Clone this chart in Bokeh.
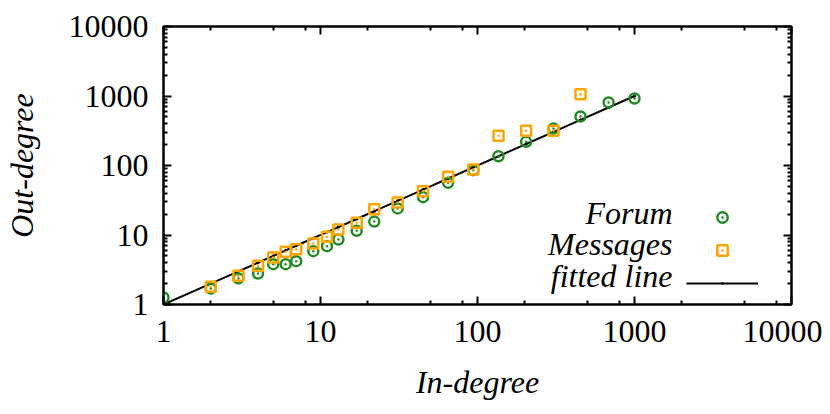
from bokeh.plotting import figure
from bokeh.models import (FixedTicker, LogAxis, Legend, LegendItem, Label,
                          ColumnDataSource, Range1d, BasicTickFormatter)
from bokeh.embed import file_html
from bokeh.resources import INLINE

# ---- data ----
forum_in = [1, 2, 3, 4, 5, 6, 7, 9, 11, 13, 17, 22, 31, 45, 65, 94, 136, 204, 305, 453, 684, 1000]
forum_out = [1.26, 1.70, 2.37, 2.79, 3.80, 3.80, 4.20, 5.85, 6.90, 8.62, 11.5, 15.6, 24.1, 35.0,
             56.4, 85.6, 136, 219, 341, 507, 806, 920]

msg_in = [2, 3, 4, 5, 6, 7, 9, 11, 13, 17, 22, 31, 45, 65, 94, 136, 204, 305, 453]
msg_out = [1.80, 2.59, 3.61, 4.75, 5.73, 6.25, 7.55, 9.42, 12.0, 15.0, 23.5, 29.4, 42.7, 68.7,
           87.6, 267, 316, 316, 1062]

fit_in = [1, 2, 3, 4, 5, 6, 7, 9, 11, 13, 17, 22, 31, 45, 65, 94, 136, 204, 305, 453, 684, 1000]
fit_out = [1, 2, 3, 4, 5, 6, 7, 9, 11, 13, 17, 22, 31, 45, 65, 94, 136, 204, 305, 453, 684, 1000]

major_ticks = [1, 10, 100, 1000, 10000]
x_minor = [2, 5, 8, 20, 50, 80, 200, 500, 800, 2000, 5000, 8000]
y_minor = [m * d for d in [1, 10, 100, 1000] for m in range(2, 10)]

FONT = "Liberation Serif"
FS = "32px"
GREEN = "#228B22"
ORANGE = "#FFA500"

p = figure(frame_width=628, frame_height=278,
           x_axis_type="log", y_axis_type="log",
           x_range=Range1d(1, 10000), y_range=Range1d(1, 10000),
           output_backend="svg", toolbar_location=None,
           min_border_left=160, min_border_right=31,
           min_border_top=26, min_border_bottom=96)
p.grid.visible = False
p.outline_line_color = "black"
p.outline_line_width = 2
p.background_fill_color = "white"
p.border_fill_color = "white"

xt = FixedTicker(ticks=major_ticks, minor_ticks=x_minor)
yt = FixedTicker(ticks=major_ticks, minor_ticks=y_minor)


def style_axis(ax, labels=True):
    ax.axis_line_width = 2
    ax.axis_line_color = "black"
    ax.major_tick_in = 8
    ax.major_tick_out = 0
    ax.minor_tick_in = 4
    ax.minor_tick_out = 0
    ax.major_tick_line_width = 2
    ax.minor_tick_line_width = 2
    ax.formatter = BasicTickFormatter(use_scientific=False)
    ax.major_label_text_font = FONT
    ax.major_label_text_font_size = FS if labels else "0px"
    ax.major_label_text_color = "black" if labels else None
    ax.major_label_text_font_style = "normal"


p.xaxis.ticker = xt
p.yaxis.ticker = yt
for ax in p.xaxis:
    style_axis(ax)
    ax.major_label_standoff = 16
    ax.axis_label = "In-degree"
    ax.axis_label_text_font = FONT
    ax.axis_label_text_font_style = "italic"
    ax.axis_label_text_font_size = FS
    ax.axis_label_text_color = "black"
    ax.axis_label_standoff = 19
for ax in p.yaxis:
    style_axis(ax)
    ax.major_label_standoff = 15
    ax.axis_label = "Out-degree"
    ax.axis_label_text_font = FONT
    ax.axis_label_text_font_style = "italic"
    ax.axis_label_text_font_size = FS
    ax.axis_label_text_color = "black"
    ax.axis_label_standoff = 26

top = LogAxis(ticker=xt)
style_axis(top, labels=False)
p.add_layout(top, "above")
right = LogAxis(ticker=yt)
style_axis(right, labels=False)
p.add_layout(right, "right")

fit_src = ColumnDataSource(dict(x=fit_in, y=fit_out))
r_fit_line = p.line("x", "y", source=fit_src, line_color="black", line_width=2)
r_fit_dots = p.scatter("x", "y", source=fit_src, marker="dot", size=12,
                       line_color="black", fill_color="black")

r_forum = p.scatter(forum_in, forum_out, marker="circle_dot", size=10,
                    line_color=GREEN, line_width=2.5, fill_color=None)
r_msg = p.scatter(msg_in, msg_out, marker="square_dot", size=10,
                  line_color=ORANGE, line_width=2.5, fill_color=None)

legend = Legend(items=[LegendItem(label=" ", renderers=[r_forum]),
                       LegendItem(label=" ", renderers=[r_msg]),
                       LegendItem(label=" ", renderers=[r_fit_line, r_fit_dots])],
                location=(523, 8), padding=0, margin=0, spacing=7,
                glyph_width=72, glyph_height=26, label_width=0, label_standoff=0,
                label_text_font_size="1px", border_line_color=None,
                background_fill_alpha=0)
p.add_layout(legend)

for txt, yy in [("Forum", 92), ("Messages", 60.5), ("fitted line", 29)]:
    p.add_layout(Label(x=509, y=yy, x_units="screen", y_units="screen", text=txt,
                       text_font=FONT, text_font_style="italic", text_font_size=FS,
                       text_color="black",
                       text_align="right", text_baseline="alphabetic"))

open("out.html", "w").write(file_html(p, INLINE))
